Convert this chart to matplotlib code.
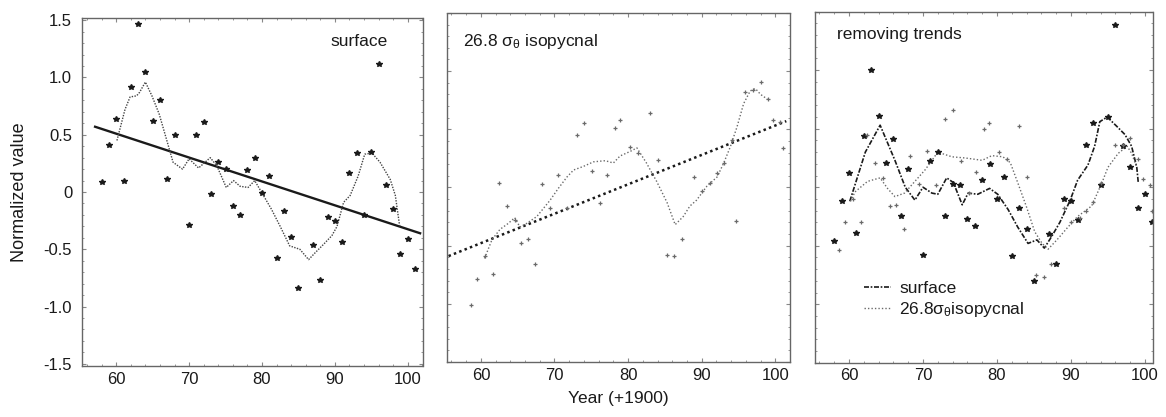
import matplotlib.pyplot as plt
from matplotlib.ticker import MultipleLocator

plt.rcParams['font.family'] = ['Liberation Sans', 'DejaVu Sans']

# --- panel 1: surface ---
sf_years = [58, 59, 60, 61, 62, 63, 64, 65, 66, 67, 68,
            70, 71, 72, 73, 74, 75, 76, 77, 78, 79, 80, 81, 82, 83, 84, 85,
            87, 88, 89, 90, 91, 92, 93, 94, 95, 96, 97, 98, 99, 100, 101]
sf_values = [0.09, 0.41, 0.64, 0.10, 0.92, 1.47, 1.05, 0.62, 0.80, 0.11, 0.50,
             -0.29, 0.50, 0.61, -0.02, 0.26, 0.20, -0.12, -0.20, 0.19, 0.30, -0.01, 0.14, -0.58, -0.17, -0.39, -0.84,
             -0.46, -0.77, -0.22, -0.25, -0.44, 0.17, 0.34, -0.20, 0.35, 1.12, 0.06, -0.15, -0.54, -0.41, -0.67]
sf_smooth_x = [60.1, 61.2, 61.9, 62.8, 63.2, 64.0, 64.9, 65.9, 66.9, 67.8, 69.1, 70.0, 71.3, 72.9,
               73.8, 75.1, 76.1, 77.0, 78.1, 79.0, 80.2, 81.3, 82.5, 83.8, 85.2, 86.4, 87.3, 88.4,
               89.6, 90.3, 91.2, 92.1, 93.2, 94.1, 95.1, 96.2, 97.6, 98.3, 98.9]
sf_smooth_y = [0.45, 0.72, 0.83, 0.84, 0.87, 0.96, 0.84, 0.68, 0.46, 0.26, 0.20, 0.29, 0.21, 0.30,
               0.23, 0.04, 0.10, 0.05, 0.04, 0.10, -0.03, -0.15, -0.30, -0.47, -0.50, -0.59, -0.53, -0.46,
               -0.38, -0.30, -0.09, -0.03, 0.14, 0.33, 0.34, 0.26, 0.11, -0.03, -0.30]
sf_trend_x = [57.1, 101.7]
sf_trend_y = [0.57, -0.36]

# --- panel 2: 26.8 sigma-theta isopycnal ---
iso_years = [58.7, 59.5, 60.6, 61.6, 62.4, 63.5, 64.6, 65.5, 66.4, 67.4, 68.3, 69.4, 70.5, 71.7,
             73.0, 74.0, 75.1, 76.2, 77.2, 78.2, 78.9, 80.3, 81.4, 83.0, 84.1, 85.3, 86.3, 87.3,
             89.0, 90.0, 91.2, 92.1, 93.0, 94.1, 94.7, 95.9, 97.0, 98.0, 99.0, 99.7, 100.7, 101.0]
iso_values = [-1.01, -0.79, -0.59, -0.74, 0.04, -0.16, -0.28, -0.48, -0.44, -0.66, 0.03, -0.18, 0.11, -0.18,
              0.45, 0.55, 0.14, -0.13, 0.11, 0.51, 0.58, 0.35, 0.30, 0.64, 0.24, -0.58, -0.59, -0.44,
              0.09, -0.03, 0.04, 0.12, 0.21, 0.41, -0.29, 0.82, 0.84, 0.91, 0.76, 0.58, 0.56, 0.34]
iso_smooth_x = [60.5, 61.5, 62.6, 63.7, 64.6, 65.3, 66.2, 67.6, 69.4, 70.5, 71.7, 72.6, 73.9, 75.3,
                76.9, 78.0, 78.9, 80.3, 81.2, 82.5, 83.9, 85.3, 86.4, 87.5, 88.4, 89.3, 90.7, 92.1,
                93.0, 93.9, 94.8, 95.7, 96.6, 97.3, 98.0, 98.9]
iso_smooth_y = [-0.61, -0.45, -0.36, -0.31, -0.26, -0.34, -0.31, -0.25, -0.11, -0.01, 0.09, 0.15, 0.18, 0.22,
                0.23, 0.21, 0.27, 0.31, 0.34, 0.21, 0.05, -0.13, -0.32, -0.25, -0.16, -0.11, 0.01, 0.09,
                0.21, 0.35, 0.52, 0.72, 0.83, 0.85, 0.80, 0.76]
iso_trend_x = [55.6, 101.5]
iso_trend_y = [-0.59, 0.57]

# --- panel 3: removing trends ---
sd_values = [-0.46, -0.12, 0.12, -0.39, 0.44, 1.00, 0.61, 0.21, 0.41, -0.25, 0.16,
             -0.58, 0.22, 0.30, -0.25, 0.03, 0.02, -0.27, -0.33, 0.06, 0.20, -0.10, 0.09, -0.59, -0.18, -0.36, -0.80,
             -0.40, -0.66, -0.10, -0.12, -0.28, 0.36, 0.55, 0.02, 0.60, 1.39, 0.35, 0.17, -0.18, -0.06, -0.30]
id_years = [58.7, 59.5, 60.6, 61.6, 62.4, 63.5, 64.6, 65.5, 66.4, 67.4, 68.3, 69.4, 70.5, 71.7,
            73.0, 74.0, 75.1, 76.2, 77.2, 78.2, 78.9, 80.3, 81.4, 83.0, 84.1, 85.3, 86.3, 87.3,
            89.0, 90.0, 91.2, 92.1, 93.0, 94.1, 95.9, 97.0, 98.0, 99.0, 99.7, 100.7, 101.0]
id_values = [-0.54, -0.30, -0.10, -0.30, 0.45, 0.21, 0.08, -0.16, -0.15, -0.36, 0.27, 0.03, 0.31, 0.02,
             0.58, 0.66, 0.22, -0.05, 0.13, 0.50, 0.55, 0.30, 0.24, 0.52, 0.09, -0.75, -0.77, -0.66,
             -0.18, -0.30, -0.26, -0.20, -0.13, 0.04, 0.36, 0.36, 0.42, 0.24, 0.07, 0.02, -0.20]
sd_smooth_x = [60.1, 62.2, 64.2, 66.2, 67.6, 68.9, 70.0, 71.2, 72.0, 73.2, 74.1, 75.3, 76.1, 77.4,
               79.0, 80.1, 81.5, 82.8, 84.2, 85.4, 86.4, 87.4, 88.5, 89.9, 90.9, 92.3, 93.2, 93.9,
               94.9, 96.2, 97.3, 98.2, 98.9, 99.1]
sd_smooth_y = [-0.12, 0.30, 0.53, 0.23, 0.00, -0.11, 0.00, -0.05, -0.06, 0.08, 0.04, -0.15, -0.05, -0.06,
               -0.01, -0.06, -0.19, -0.34, -0.48, -0.45, -0.52, -0.42, -0.30, -0.11, 0.06, 0.19, 0.35, 0.56,
               0.60, 0.52, 0.45, 0.35, 0.17, 0.04]
id_smooth_x = [60.2, 60.8, 62.5, 64.2, 65.2, 66.2, 67.5, 68.9, 70.3, 72.0, 73.9, 75.7, 78.0, 79.3, 80.8,
               81.8, 82.8, 84.0, 85.1, 86.1, 86.9, 88.1, 89.6, 90.9, 92.8, 94.2, 95.0, 96.4, 97.6,
               98.2, 98.9]
id_smooth_y = [-0.12, -0.04, 0.05, 0.08, -0.01, -0.08, -0.05, 0.05, 0.15, 0.30, 0.26, 0.25, 0.23, 0.27, 0.26,
               0.21, 0.04, -0.17, -0.38, -0.48, -0.53, -0.45, -0.34, -0.25, -0.16, 0.04, 0.17, 0.29, 0.35,
               0.29, 0.17]

y_ticks = [-1.5, -1.0, -0.5, 0, 0.5, 1.0, 1.5]
y_tick_labels = ['-1.5', '-1.0', '-0.5', '0', '0.5', '1.0', '1.5']
x_ticks = [60, 70, 80, 90, 100]

INK = '#1a1a1a'
GREY = '#6a6a6a'
SIGMA = r'$\mathregular{\sigma_{\theta}}$'


def style_axes(ax, xlim, ylim, show_ylabels):
    ax.set_xlim(*xlim)
    ax.set_ylim(*ylim)
    ax.set_xticks(x_ticks)
    ax.set_yticks(y_ticks)
    if show_ylabels:
        ax.set_yticklabels(y_tick_labels)
    else:
        ax.set_yticklabels([])
    ax.xaxis.set_minor_locator(MultipleLocator(2))
    ax.yaxis.set_minor_locator(MultipleLocator(0.1))
    ax.tick_params(which='both', direction='in', top=True, right=True,
                   color='#888888', labelsize=12, labelcolor=INK)
    ax.tick_params(which='major', length=3, width=0.8)
    ax.tick_params(which='minor', length=1.5, width=0.6)
    ax.tick_params(axis='x', pad=4)
    ax.tick_params(axis='y', pad=7)
    for sp in ax.spines.values():
        sp.set_linestyle((0, (1, 1)))
        sp.set_color('#666666')
        sp.set_linewidth(1.0)


fig = plt.figure(figsize=(11.66, 4.17), dpi=100)
ax1 = fig.add_axes([0.0703, 0.122, 0.2925, 0.835])
ax2 = fig.add_axes([0.3834, 0.132, 0.2941, 0.837])
ax3 = fig.add_axes([0.6990, 0.130, 0.2899, 0.842])

# panel 1
ax1.plot(sf_trend_x, sf_trend_y, color=INK, lw=1.7)
ax1.plot(sf_smooth_x, sf_smooth_y, color='#444444', lw=1.0, ls=(0, (1, 1)))
ax1.plot(sf_years, sf_values, ls='none', marker='*', ms=4, color=INK)
ax1.text(0.897, 0.931, 'surface', transform=ax1.transAxes, ha='right', va='center',
         fontsize=12.5, color=INK)
ax1.set_ylabel('Normalized value', fontsize=13, color=INK, labelpad=11)
style_axes(ax1, (55.3, 102.1), (-1.52, 1.52), True)

# panel 2
ax2.plot(iso_trend_x, iso_trend_y, color=INK, lw=1.8, ls=(0, (1, 1.3)))
ax2.plot(iso_smooth_x, iso_smooth_y, color=GREY, lw=1.0, ls=(0, (1, 1.5)))
ax2.plot(iso_years, iso_values, ls='none', marker='+', ms=3.5, mew=0.9, color=GREY)
ax2.text(0.047, 0.917, '26.8 ' + SIGMA + ' isopycnal', transform=ax2.transAxes,
         ha='left', va='center', fontsize=12.5, color=INK)
ax2.set_xlabel('Year (+1900)', fontsize=12.5, color=INK, labelpad=6)
style_axes(ax2, (55.4, 102.0), (-1.5, 1.5), False)

# panel 3
ax3.plot(sd_smooth_x, sd_smooth_y, color=INK, lw=1.2, ls=(0, (3, 1, 1, 1)), label='surface')
ax3.plot(id_smooth_x, id_smooth_y, color=GREY, lw=1.0, ls=(0, (1, 1.5)),
         label='26.8' + SIGMA + 'isopycnal')
ax3.plot(sf_years, sd_values, ls='none', marker='*', ms=4, color=INK)
ax3.plot(id_years, id_values, ls='none', marker='+', ms=3.5, mew=0.9, color=GREY)
ax3.text(0.065, 0.934, 'removing trends', transform=ax3.transAxes, ha='left', va='center',
         fontsize=12.5, color=INK)
ax3.legend(loc='lower left', bbox_to_anchor=(0.1, 0.08), frameon=False, fontsize=12.5,
           handlelength=1.5, handletextpad=0.5, labelspacing=0.25, labelcolor=INK)
style_axes(ax3, (55.4, 101.1), (-1.5, 1.5), False)

fig.savefig('out.png', dpi=100)
